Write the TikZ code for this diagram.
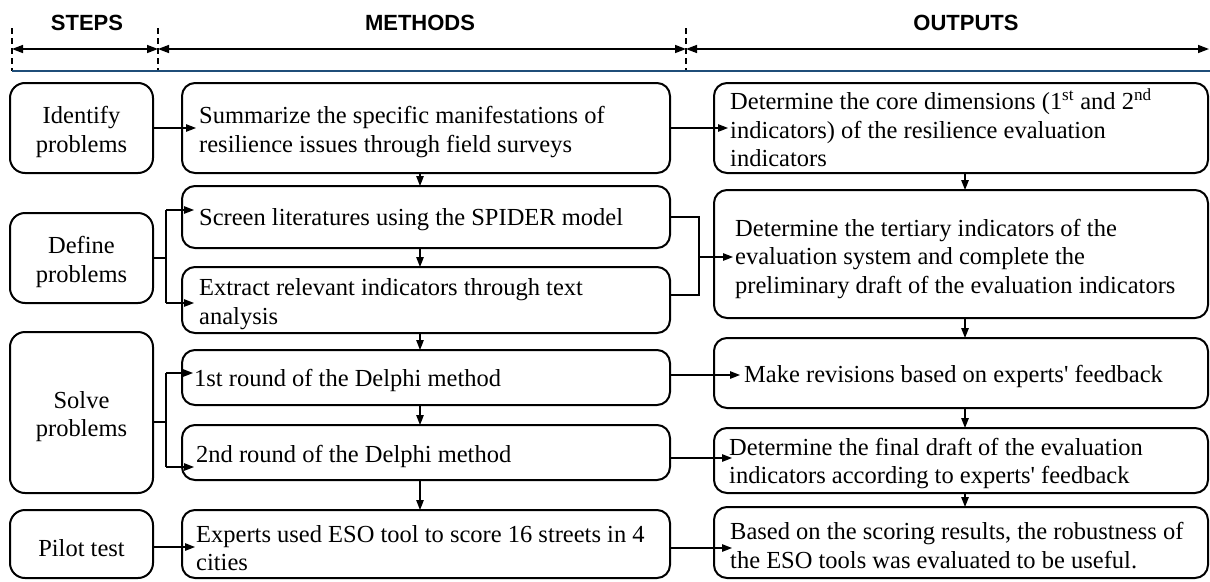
\documentclass[tikz,border=0pt]{standalone}
\usepackage{fontspec}
\setmainfont{Liberation Serif}
\newfontfamily\hdrfont{Liberation Sans}
\usetikzlibrary{arrows.meta,calc}
\definecolor{hblue}{RGB}{31,78,121}
\begin{document}
\begin{tikzpicture}[x=1pt,y=-1pt,
  box/.style={draw,line width=2pt,rounded corners=13pt,anchor=north west,outer sep=0pt,inner sep=0pt},
  stepbox/.style={box,rounded corners=15pt},
  txt/.style={inner sep=0pt,align=left,anchor=west,font=\fontsize{24.5}{28.5}\selectfont},
  ctxt/.style={inner sep=0pt,align=center,font=\fontsize{24.5}{28.5}\selectfont},
  conn/.style={line width=1.3pt},
  arr/.style={line width=1.3pt,-{Triangle[length=10pt,width=7.5pt]}},
  harr/.style={line width=1.5pt,{Triangle[length=11pt,width=8pt]}-{Triangle[length=11pt,width=8pt]}},
  dashline/.style={line width=1.3pt,dash pattern=on 6pt off 4pt},
  hdr/.style={font=\hdrfont\bfseries\fontsize{22}{26}\selectfont}]
\useasboundingbox (0,0) rectangle (1210,581);

% header
\node[hdr] (hs) at (87,23) {STEPS};
\node[hdr] (hm) at (420,23) {METHODS};
\node[hdr] (ho) at (966,23) {OUTPUTS};
\coordinate (d1t) at (12,28); \coordinate (d1b) at (12,71);
\coordinate (d2t) at (158,28); \coordinate (d2b) at (158,71);
\coordinate (d3t) at (686,28); \coordinate (d3b) at (686,71);
\coordinate (a1) at (12,49); \coordinate (a2) at (158,49);
\coordinate (a3) at (686,49); \coordinate (a4) at (1209,49);
\coordinate (bl1) at (12,71); \coordinate (bl2) at (1210,71);
\draw[dashline] (d1t) -- (d1b);
\draw[dashline] (d2t) -- (d2b);
\draw[dashline] (d3t) -- (d3b);
\draw[harr] (a1) -- (a2);
\draw[harr] (a2) -- (a3);
\draw[harr] (a3) -- (a4);
\draw[hblue,line width=1.6pt] (bl1) -- (bl2);

% steps
\node[stepbox,minimum width=143,minimum height=90] (id) at (10,83) {};
\node[stepbox,minimum width=143,minimum height=90] (def) at (10,213) {};
\node[stepbox,minimum width=143,minimum height=161] (sol) at (10,332) {};
\node[stepbox,minimum width=143,minimum height=68] (pil) at (10,510) {};
\node[ctxt] (idt) at ($(id.center)+(0,4)$) {Identify\\problems};
\node[ctxt] (deft) at ($(def.center)+(0,4)$) {Define\\problems};
\node[ctxt] (solt) at ($(sol.center)+(0,4)$) {Solve\\problems};
\node[ctxt] (pilt) at ($(pil.center)+(0,4)$) {Pilot test};

% methods
\node[box,minimum width=488,minimum height=90] (m1) at (182,83) {};
\node[box,minimum width=488,minimum height=62] (m2) at (182,186) {};
\node[box,minimum width=488,minimum height=66] (m3) at (182,267) {};
\node[box,minimum width=488,minimum height=55] (m4) at (182,350) {};
\node[box,minimum width=488,minimum height=55] (m5) at (182,425) {};
\node[box,minimum width=488,minimum height=68] (m6) at (182,510) {};
\node[txt] (m1t) at ($(m1.west)+(17,4)$) {Summarize the specific manifestations of\\resilience issues through field surveys};
\node[txt] (m2t) at ($(m2.west)+(17,3)$) {Screen literatures using the SPIDER model};
\node[txt] (m3t) at ($(m3.west)+(17,4)$) {Extract relevant indicators through text\\analysis};
\node[txt] (m4t) at ($(m4.west)+(12,3)$) {1st round of the Delphi method};
\node[txt] (m5t) at ($(m5.west)+(14,4)$) {2nd round of the Delphi method};
\node[txt] (m6t) at ($(m6.west)+(14,4)$) {Experts used ESO tool to score 16 streets in 4\\cities};

% outputs
\node[box,minimum width=494,minimum height=90] (o1) at (714,83) {};
\node[box,minimum width=494,minimum height=128] (o2) at (714,190) {};
\node[box,minimum width=494,minimum height=70] (o3) at (714,338) {};
\node[box,minimum width=494,minimum height=65] (o4) at (714,428) {};
\node[box,minimum width=494,minimum height=71] (o5) at (714,507) {};
\node[txt] (o1t) at ($(o1.west)+(16,0)$) {Determine the core dimensions (1\textsuperscript{st} and 2\textsuperscript{nd}\\indicators) of the resilience evaluation\\indicators};
\node[txt] (o2t) at ($(o2.west)+(21,5)$) {Determine the tertiary indicators of the\\evaluation system and complete the\\preliminary draft of the evaluation indicators};
\node[txt] (o3t) at ($(o3.west)+(30,3)$) {Make revisions based on experts\textquotesingle{} feedback};
\node[txt] (o4t) at ($(o4.west)+(15,3)$) {Determine the final draft of the evaluation\\indicators according to experts\textquotesingle{} feedback};
\node[txt] (o5t) at ($(o5.west)+(16,3)$) {Based on the scoring results, the robustness of\\the ESO tools was evaluated to be useful.};

% step -> method connectors
\coordinate (cm) at (420,0);
\coordinate (co) at (965,0);
\draw[arr] (id.east) -- ($(m1.west)+(14,0)$);
\coordinate (bD) at (166,258);
\coordinate (bD1) at (166,210);
\coordinate (bD2) at (166,303);
\draw[conn] (def.east) -- (bD);
\draw[conn] (bD1) -- (bD2);
\draw[arr] (bD1) -- ($(m2.west |- bD1)+(12,0)$);
\draw[arr] (bD2) -- ($(m3.west |- bD2)+(12,0)$);
\coordinate (bS) at (166,422);
\coordinate (bS1) at (166,373);
\coordinate (bS2) at (166,467);
\draw[conn] (sol.east |- bS) -- (bS);
\draw[conn] (bS1) -- (bS2);
\draw[arr] (bS1) -- ($(m4.west |- bS1)+(11,0)$);
\draw[arr] (bS2) -- ($(m5.west |- bS2)+(12,0)$);
\coordinate (pP) at (0,547);
\draw[arr] (pil.east |- pP) -- ($(m6.west |- pP)+(13,0)$);

% method chain
\draw[arr] (m1.south -| cm) -- (m2.north -| cm);
\draw[arr] (m2.south -| cm) -- (m3.north -| cm);
\draw[arr] (m3.south -| cm) -- (m4.north -| cm);
\draw[arr] (m4.south -| cm) -- (m5.north -| cm);
\draw[arr] (m5.south -| cm) -- (m6.north -| cm);

% method -> output connectors
\draw[arr] (m1.east) -- ($(o1.west)+(14,0)$);
\coordinate (r1) at (699,217);
\coordinate (r2) at (699,295);
\coordinate (rm) at (699,257);
\draw[conn] (m2.east |- r1) -- (r1) -- (r2) -- (m3.east |- r2);
\draw[arr] (rm) -- ($(o2.west |- rm)+(19,0)$);
\coordinate (q3) at (0,375);
\draw[arr] (m4.east |- q3) -- ($(o3.west |- q3)+(26,0)$);
\coordinate (q4) at (0,458);
\draw[arr] (m5.east |- q4) -- ($(o4.west |- q4)+(18,0)$);
\coordinate (q5) at (0,548);
\draw[arr] (m6.east |- q5) -- ($(o5.west |- q5)+(18,0)$);

% output chain
\draw[arr] (o1.south -| co) -- (o2.north -| co);
\draw[arr] (o2.south -| co) -- (o3.north -| co);
\draw[arr] (o3.south -| co) -- (o4.north -| co);
\draw[arr] (o4.south -| co) -- (o5.north -| co);
\end{tikzpicture}
\end{document}
